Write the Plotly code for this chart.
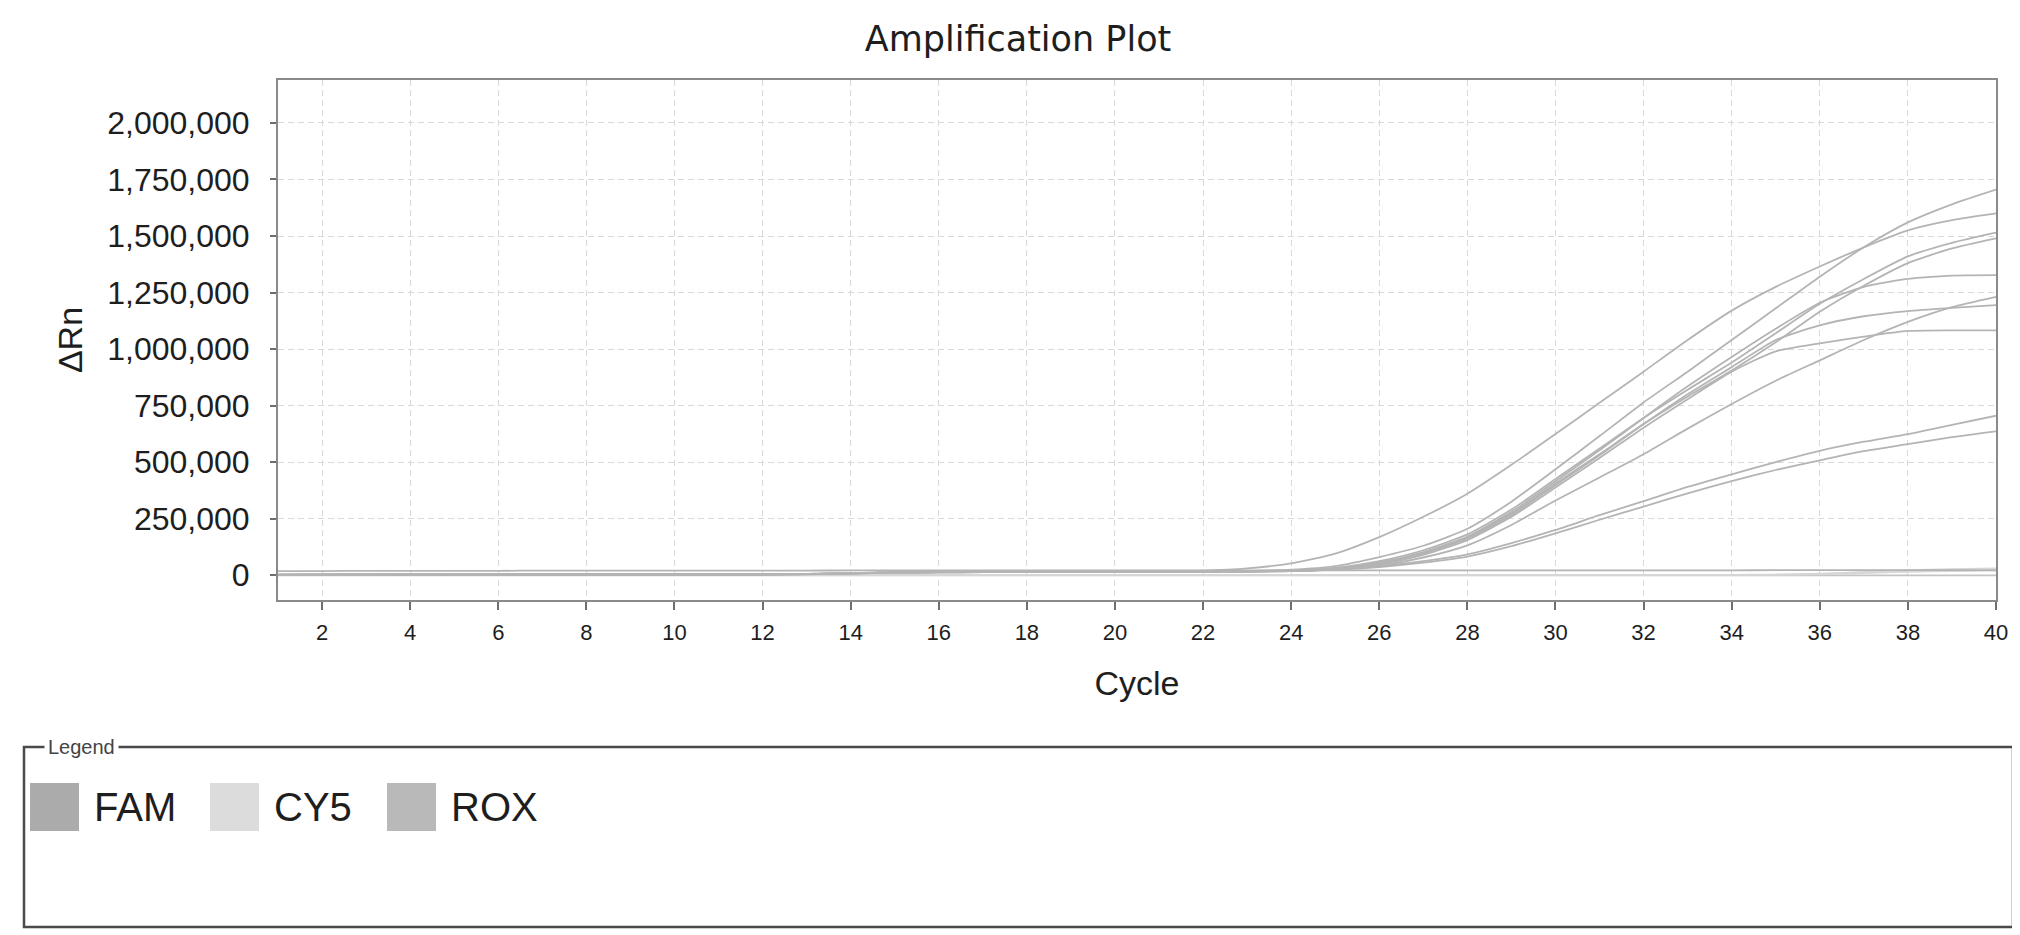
import plotly.graph_objects as go

# ---------------- data ----------------
cycles = list(range(1, 41))

fam_curve_a = [2000, 2500, 3000, 3000, 3000, 3000, 3000, 3000, 3500, 3500, 3500, 4000, 5000,
               9000, 13000, 14000, 15000, 15000, 15000, 16000, 17000,
               20000, 30000, 52000, 95000, 168000, 258000, 360000, 488000, 624000, 762000,
               900000, 1040000, 1170000, 1275000, 1365000, 1450000, 1525000, 1570000, 1600000]
fam_curve_b = [2000, 2500, 3000, 3000, 3000, 3000, 3000, 3000, 3500, 3500, 3500, 4000, 5000,
               9000, 13000, 14000, 15000, 15000, 15000, 16000, 16000,
               17000, 19000, 24000, 40000, 80000, 130000, 205000, 325000, 468000, 615000,
               764000, 900000, 1040000, 1180000, 1320000, 1450000, 1560000, 1640000, 1705000]
fam_curve_c = [2000, 2000, 2500, 3000, 3000, 3000, 3000, 3000, 3000, 3500, 3500, 4000, 5000,
               8000, 12000, 14000, 14000, 15000, 15000, 15000, 16000,
               16000, 17000, 21000, 32000, 62000, 110000, 180000, 290000, 425000, 560000,
               695000, 820000, 940000, 1070000, 1200000, 1310000, 1410000, 1470000, 1515000]
fam_curve_d = [1500, 2000, 2500, 2500, 3000, 3000, 3000, 3000, 3000, 3000, 3500, 4000, 4500,
               8000, 12000, 13000, 14000, 14000, 15000, 15000, 15000,
               16000, 17000, 20000, 30000, 56000, 102000, 168000, 272000, 405000, 535000,
               668000, 790000, 905000, 1030000, 1165000, 1280000, 1380000, 1445000, 1490000]
fam_curve_e = [2000, 2000, 2500, 2500, 3000, 3000, 3000, 3000, 3000, 3500, 3500, 4000, 5000,
               8000, 12000, 13000, 14000, 15000, 15000, 15000, 16000,
               16000, 17000, 20000, 29000, 54000, 100000, 170000, 280000, 415000, 552000,
               695000, 835000, 965000, 1090000, 1205000, 1275000, 1310000, 1325000, 1327000]
fam_curve_f = [1500, 2000, 2000, 2500, 2500, 3000, 3000, 3000, 3000, 3000, 3500, 3500, 4500,
               8000, 11000, 13000, 13000, 14000, 14000, 15000, 15000,
               15000, 16000, 18000, 25000, 42000, 78000, 132000, 222000, 330000, 432000,
               535000, 648000, 757000, 860000, 950000, 1040000, 1120000, 1185000, 1231000]
fam_curve_g = [2000, 2000, 2500, 3000, 3000, 3000, 3000, 3000, 3000, 3000, 3500, 4000, 4500,
               8000, 12000, 13000, 14000, 14000, 15000, 15000, 15000,
               16000, 17000, 19000, 27000, 50000, 95000, 162000, 265000, 398000, 530000,
               668000, 800000, 920000, 1040000, 1105000, 1145000, 1168000, 1182000, 1194000]
fam_curve_h = [1500, 2000, 2000, 2500, 3000, 3000, 3000, 3000, 3000, 3000, 3000, 3500, 4500,
               7500, 11000, 12000, 13000, 14000, 14000, 14000, 15000,
               15000, 16000, 18000, 26000, 48000, 90000, 155000, 258000, 388000, 518000,
               652000, 778000, 900000, 990000, 1025000, 1055000, 1080000, 1083000, 1083000]
fam_curve_i = [1500, 2000, 2000, 2500, 2500, 3000, 3000, 3000, 3000, 3000, 3000, 3500, 4500,
               7500, 11000, 12000, 13000, 14000, 14000, 14000, 15000,
               15000, 16000, 19000, 26000, 40000, 62000, 92000, 142000, 200000, 265000,
               327000, 390000, 446000, 500000, 550000, 590000, 624000, 665000, 705000]
fam_curve_j = [1500, 1500, 2000, 2000, 2500, 2500, 3000, 3000, 3000, 3000, 3000, 3500, 4000,
               7000, 10000, 12000, 13000, 13000, 14000, 14000, 15000,
               15000, 16000, 18000, 24000, 36000, 55000, 82000, 128000, 185000, 245000,
               303000, 362000, 416000, 465000, 508000, 548000, 579000, 610000, 636000]
fam_negative = [18000, 18000, 19000, 19000, 19000, 19000, 20000, 20000, 20000, 20000, 20000, 20000, 20000,
                21000, 21000, 21000, 21000, 21000, 21000, 21000, 21000,
                21000, 21000, 21000, 21000, 21000, 21000, 21000, 21000, 21000, 21000,
                21000, 21000, 21000, 22000, 22000, 22000, 22000, 22000, 22000]
cy5_curve_a = [0, 0, 500, 500, 500, 500, 500, 500, 500, 500, 500, 500, 500,
               500, 1000, 1000, 1000, 1000, 1000, 1000, 1000,
               1000, 1000, 1000, 1000, 1000, 1000, 1000, 1000, 1000, 1000,
               1000, 1000, 1500, 2500, 6000, 14000, 22000, 27000, 30000]
cy5_curve_b = [0, 0, 0, 0, 0, 0, 0, 0, 0, 0, 0, 0, 0,
               0, 0, 0, 0, 0, 0, 0, 0,
               0, 0, 0, 0, 0, 0, 0, 0, 0, 0,
               0, 0, 500, 1500, 4000, 9000, 15000, 18000, 20000]
rox_curve = [-1000, -1000, -1000, -1000, -1000, -1000, -1000, -1000, -1000, -1000, -1000, -1000, -1000,
             -1000, -1000, -1000, -1000, -1000, -1000, -1000, -1000,
             -1000, -1000, -1000, -1000, -1000, -1000, -1000, -1000, -1000, -1000,
             -1000, -1000, -1000, -1000, -1000, -1000, -1000, -1000, -1000]

fam_series = [fam_negative, fam_curve_j, fam_curve_i, fam_curve_f, fam_curve_h, fam_curve_g,
              fam_curve_e, fam_curve_d, fam_curve_c, fam_curve_b, fam_curve_a]
cy5_series = [cy5_curve_a, cy5_curve_b]
rox_series = [rox_curve]

legend_names = ["FAM", "CY5", "ROX"]
legend_colors = ["#ababab", "#dcdcdc", "#b9b9b9"]
curve_colors = {"FAM": "#b4b4b4", "CY5": "#d6d6d6", "ROX": "#c4c4c4"}

y_tick_values = [0, 250000, 500000, 750000, 1000000, 1250000, 1500000, 1750000, 2000000]
x_tick_values = list(range(2, 41, 2))

# ---------------- figure ----------------
W, H = 2020, 935
L, R, T, B = 270, 32, 72, 343
PW, PH = W - L - R, H - T - B


def px_x(x):
    return (x - L) / PW


def px_y(y):
    return (H - B - y) / PH


fig = go.Figure()

for name, group in (("ROX", rox_series), ("CY5", cy5_series), ("FAM", fam_series)):
    for vals in group:
        fig.add_trace(go.Scatter(
            x=cycles, y=vals, mode="lines", name=name, showlegend=False,
            line=dict(color=curve_colors[name], width=1.8, shape="spline", smoothing=0.6),
            hoverinfo="skip"))

tick_font = dict(family="Liberation Sans, Arial, sans-serif", color="#1e1e1e")

fig.update_layout(
    width=W, height=H,
    margin=dict(l=L, r=R, t=T, b=B, autoexpand=False),
    paper_bgcolor="white", plot_bgcolor="white",
    title=dict(text="Amplification Plot", x=1010 / W, xref="container", xanchor="center",
               y=1 - 31 / H, yref="container", yanchor="middle",
               font=dict(family="DejaVu Sans, Verdana, sans-serif", size=35, color="#1e1e1e")),
    showlegend=False,
)

fig.update_xaxes(
    range=[1, 40], tickvals=x_tick_values,
    ticks="outside", ticklen=8, tickwidth=1.5, tickcolor="#6e6e6e",
    tickfont=dict(size=22, **tick_font), ticklabelstandoff=4,
    showline=True, linecolor="#8a8a8a", linewidth=2, mirror=True,
    showgrid=True, gridcolor="#d9d9d9", gridwidth=1, griddash="6px,4px",
    zeroline=False, automargin=False,
    title=dict(text="Cycle", standoff=27,
               font=dict(family="Liberation Sans, Arial, sans-serif", size=34, color="#1e1e1e")),
)
fig.update_yaxes(
    range=[-110000, 2190000], tickvals=y_tick_values, tickformat=",d",
    ticks="outside", ticklen=6, tickwidth=1.5, tickcolor="#6e6e6e",
    tickfont=dict(size=32, **tick_font), ticklabelstandoff=14,
    showline=True, linecolor="#8a8a8a", linewidth=2, mirror=True,
    showgrid=True, gridcolor="#d9d9d9", gridwidth=1, griddash="6px,4px",
    zeroline=False, automargin=False,
    title=dict(text="ΔRn", standoff=14,
               font=dict(family="Liberation Sans, Arial, sans-serif", size=34, color="#1e1e1e")),
)

# ---------------- custom legend panel ----------------
fig.add_shape(type="rect", xref="paper", yref="paper",
              x0=px_x(16), x1=px_x(2005), y0=px_y(919), y1=px_y(739),
              line=dict(color="#4a4a4a", width=2.5), fillcolor="rgba(0,0,0,0)", layer="above")
fig.add_annotation(xref="paper", yref="paper", x=px_x(36), y=px_y(739),
                   xanchor="left", yanchor="middle", text="Legend", showarrow=False,
                   bgcolor="white", borderpad=3,
                   font=dict(family="Liberation Sans, Arial, sans-serif", size=20, color="#444444"))

sq_left = [22, 202, 379]
for i, (nm, col) in enumerate(zip(legend_names, legend_colors)):
    x0 = sq_left[i]
    fig.add_shape(type="rect", xref="paper", yref="paper",
                  x0=px_x(x0), x1=px_x(x0 + 49), y0=px_y(823), y1=px_y(775),
                  line=dict(width=0), fillcolor=col, layer="above")
    fig.add_annotation(xref="paper", yref="paper", x=px_x(x0 + 62), y=px_y(799),
                       xanchor="left", yanchor="middle", text=nm, showarrow=False,
                       font=dict(family="Liberation Sans, Arial, sans-serif", size=40, color="#1e1e1e"))

fig.write_html("out.html")
